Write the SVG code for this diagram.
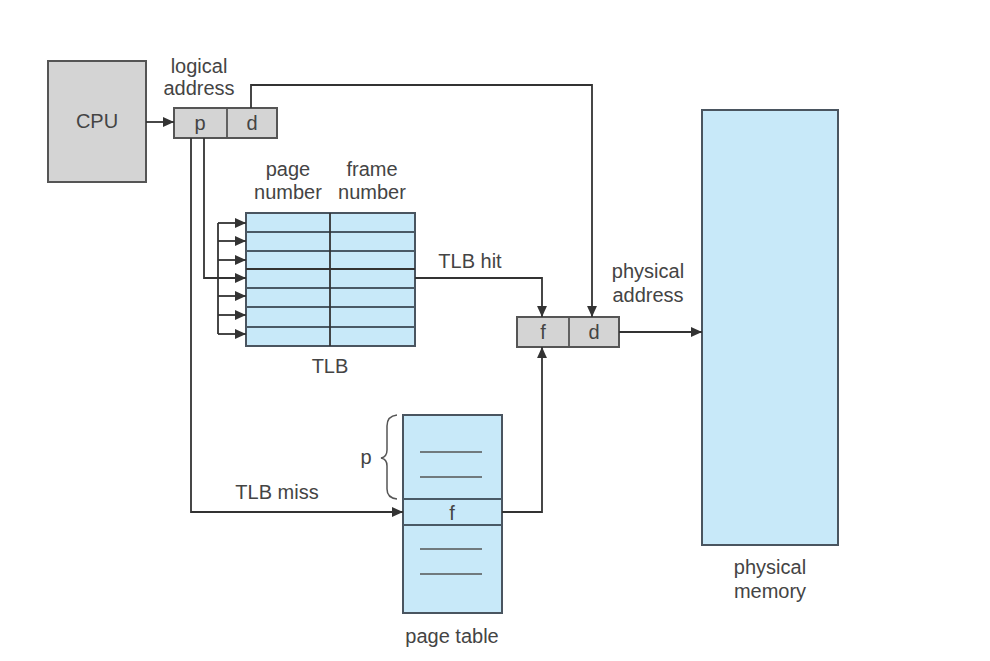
<svg xmlns="http://www.w3.org/2000/svg" width="990" height="661" viewBox="0 0 990 661">
<defs>
<marker id="ah" viewBox="0 0 10 10" refX="10" refY="5" markerWidth="11" markerHeight="11" markerUnits="userSpaceOnUse" orient="auto">
<path d="M0,0.5 L10,5 L0,9.5 z" fill="#333"/>
</marker>
<style>
text{font-family:"Liberation Sans",Arial,sans-serif;font-size:20px;fill:#444;text-anchor:middle}
.gray{fill:#d4d4d4;stroke:#555;stroke-width:2}
.blue{fill:#c8e9f9;stroke:#4a5560;stroke-width:2}
.ln{fill:none;stroke:#333;stroke-width:1.8}
.row{stroke:#4a5a66;stroke-width:1.8}
.dash{stroke:#555;stroke-width:1.6}
.c{fill:none;stroke:#333;stroke-width:1.8;marker-end:url(#ah)}
</style>
</defs>
<rect width="990" height="661" fill="#fff"/>

<g id="cpu">
<rect class="gray" x="48" y="61" width="98" height="121"/>
<text x="97" y="128">CPU</text>
</g>

<g id="logical-address">
<rect class="gray" x="174" y="108" width="103" height="30"/>
<line x1="227" y1="108" x2="227" y2="138" stroke="#555" stroke-width="1.8"/>
<text x="200" y="130">p</text>
<text x="252" y="130">d</text>
<text x="199" y="73">logical</text>
<text x="199" y="95">address</text>
</g>

<g id="tlb">
<rect class="blue" x="246" y="213" width="169" height="133"/>
<line class="row" x1="246" y1="232" x2="415" y2="232"/>
<line class="row" x1="246" y1="251" x2="415" y2="251"/>
<line x1="246" y1="269" x2="415" y2="269" stroke="#333" stroke-width="1.8"/>
<line class="row" x1="246" y1="288" x2="415" y2="288"/>
<line class="row" x1="246" y1="307" x2="415" y2="307"/>
<line class="row" x1="246" y1="327" x2="415" y2="327"/>
<line x1="330" y1="213" x2="330" y2="346" stroke="#333" stroke-width="1.8"/>
<text x="288" y="176">page</text>
<text x="288" y="199">number</text>
<text x="372" y="176">frame</text>
<text x="372" y="199">number</text>
<text x="330" y="373">TLB</text>
</g>

<g id="physical-address">
<rect class="gray" x="517" y="317" width="102" height="30"/>
<line x1="569" y1="317" x2="569" y2="347" stroke="#555" stroke-width="1.8"/>
<text x="543" y="339">f</text>
<text x="594" y="339">d</text>
<text x="648" y="278">physical</text>
<text x="648" y="302">address</text>
</g>

<g id="page-table">
<rect class="blue" x="403" y="415" width="99" height="198"/>
<line class="row" x1="403" y1="499" x2="502" y2="499"/>
<line class="row" x1="403" y1="525" x2="502" y2="525"/>
<line class="dash" x1="420" y1="452" x2="482" y2="452"/>
<line class="dash" x1="420" y1="477" x2="482" y2="477"/>
<line class="dash" x1="420" y1="549" x2="482" y2="549"/>
<line class="dash" x1="420" y1="574" x2="482" y2="574"/>
<text x="452" y="520">f</text>
<path d="M397,415 Q387,416 387,426 L387,450 Q387,457 381,458 Q387,459 387,466 L387,489 Q387,498 397,499" fill="none" stroke="#555" stroke-width="1.5"/>
<text x="366" y="464">p</text>
<text x="452" y="643">page table</text>
</g>

<g id="physical-memory">
<rect class="blue" x="702" y="110" width="136" height="435"/>
<text x="770" y="574">physical</text>
<text x="770" y="598">memory</text>
</g>

<g id="connectors">
<path class="c" d="M146,122 L174,122"/>
<path class="c" d="M251,108 L251,85 L592,85 L592,317"/>
<path class="c" d="M191,138 L191,512 L403,512"/>
<path class="c" d="M204,138 L204,278 L246,278"/>
<path class="ln" d="M218,223 L218,334"/>
<path class="c" d="M218,223 L246,223"/>
<path class="c" d="M218,241 L246,241"/>
<path class="c" d="M218,260 L246,260"/>
<path class="c" d="M218,296 L246,296"/>
<path class="c" d="M218,315 L246,315"/>
<path class="c" d="M218,334 L246,334"/>
<path class="c" d="M415,278 L542,278 L542,317"/>
<path class="c" d="M502,512 L542,512 L542,347"/>
<path class="c" d="M619,332 L702,332"/>
<text x="470" y="268">TLB hit</text>
<text x="277" y="499">TLB miss</text>
</g>
</svg>
